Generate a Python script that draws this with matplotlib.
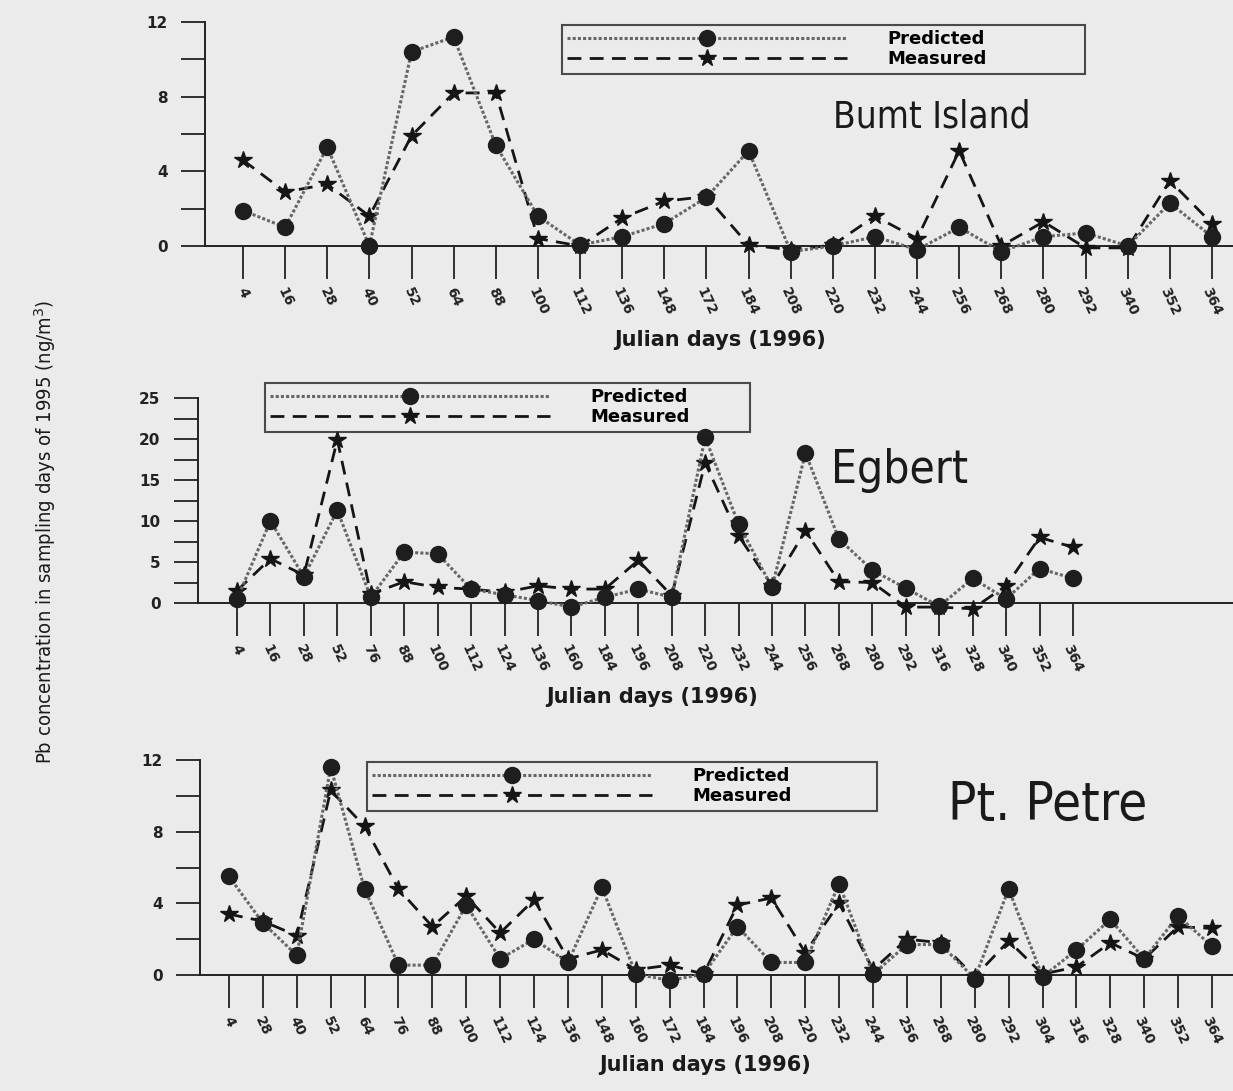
import matplotlib
matplotlib.use("Agg")
import matplotlib.pyplot as plt
from matplotlib.ticker import MultipleLocator

# ---------------- data ----------------
burnt_days = [4, 16, 28, 40, 52, 64, 88, 100, 112, 136, 148, 172, 184, 208, 220,
              232, 244, 256, 268, 280, 292, 340, 352, 364]
burnt_pred = [1.9, 1.0, 5.3, 0.0, 10.4, 11.2, 5.4, 1.6, 0.05, 0.5, 1.2, 2.6, 5.1,
              -0.3, 0.0, 0.5, -0.2, 1.0, -0.3, 0.5, 0.7, 0.0, 2.3, 0.5]
burnt_meas = [4.6, 2.9, 3.3, 1.6, 5.9, 8.2, 8.2, 0.4, 0.0, 1.5, 2.4, 2.65, 0.05,
              -0.2, 0.05, 1.6, 0.4, 5.1, 0.0, 1.3, -0.1, -0.1, 3.5, 1.2]

egbert_days = [4, 16, 28, 52, 76, 88, 100, 112, 124, 136, 160, 184, 196, 208, 220,
               232, 244, 256, 268, 280, 292, 316, 328, 340, 352, 364]
egbert_pred = [0.5, 10.0, 3.2, 11.3, 0.7, 6.2, 6.0, 1.7, 1.0, 0.3, -0.5, 0.7, 1.7,
               0.7, 20.2, 9.6, 1.9, 18.3, 7.8, 4.0, 1.8, -0.4, 3.0, 0.5, 4.2, 3.0]
egbert_meas = [1.5, 5.4, 3.4, 19.9, 1.1, 2.6, 1.9, 1.7, 1.3, 2.1, 1.7, 1.7, 5.2,
               0.9, 17.1, 8.2, 2.1, 8.8, 2.6, 2.5, -0.5, -0.5, -0.7, 2.1, 8.0, 6.8]

petre_days = [4, 28, 40, 52, 64, 76, 88, 100, 112, 124, 136, 148, 160, 172, 184,
              196, 208, 220, 232, 244, 256, 268, 280, 292, 304, 316, 328, 340, 352, 364]
petre_pred = [5.5, 2.9, 1.1, 11.6, 4.8, 0.55, 0.55, 3.9, 0.9, 2.0, 0.7, 4.9, 0.05,
              -0.3, 0.05, 2.7, 0.7, 0.7, 5.1, 0.05, 1.7, 1.7, -0.2, 4.8, -0.1, 1.4,
              3.1, 0.9, 3.3, 1.6]
petre_meas = [3.4, 3.0, 2.2, 10.3, 8.3, 4.8, 2.7, 4.4, 2.35, 4.2, 0.9, 1.4, 0.3,
              0.55, 0.05, 3.9, 4.3, 1.25, 4.0, 0.3, 2.0, 1.8, -0.1, 1.9, 0.05, 0.45,
              1.8, 0.9, 2.7, 2.6]

W, H = 1233, 1091
BG = "#ebebeb"
fig = plt.figure(figsize=(W / 100, H / 100), dpi=100, facecolor=BG)

NARROW = ["Liberation Sans Narrow", "DejaVu Sans"]


def panel(px_left, px_top, px_bottom, days, pred, meas, ymax, major, minor,
          first_tick_px, last_tick_px, leg_box, name, name_xy, name_size, xlabel_xy):
    left = px_left / W
    bottom = 1 - px_bottom / H
    height = (px_bottom - px_top) / H
    ax = fig.add_axes([left, bottom, 1 - left, height])
    ax.set_facecolor("none")
    n = len(days)
    x = list(range(n))
    step = (last_tick_px - first_tick_px) / (n - 1)
    ax.set_xlim(-(first_tick_px - px_left) / step, (n - 1) + (W - last_tick_px) / step)
    ax.set_ylim(0, ymax)

    ax.plot(x, meas, color="#151515", ls=(0, (5, 3)), lw=2.0, marker="*", ms=13,
            mfc="#151515", mec="#151515", clip_on=False, label="Measured", zorder=3)
    ax.plot(x, pred, color="#666666", ls=(0, (1, 0.7)), lw=2.2, marker="o", ms=11.5,
            mfc="#1e1e1e", mec="#1e1e1e", clip_on=False, label="Predicted", zorder=4)

    for s in ("top", "right"):
        ax.spines[s].set_visible(False)
    for s in ("left", "bottom"):
        ax.spines[s].set_linewidth(1.4)
        ax.spines[s].set_color("#222222")

    ax.yaxis.set_major_locator(MultipleLocator(major))
    ax.yaxis.set_minor_locator(MultipleLocator(minor))
    ax.tick_params(axis="y", which="both", direction="out", length=17, width=1.3,
                   colors="#222222", labelsize=11, pad=10)
    for lb in ax.get_yticklabels():
        lb.set_fontweight("bold")

    ax.set_xticks(x)
    ax.set_xticklabels([str(d) for d in days], rotation=-65, fontweight="bold",
                       fontsize=10, ha="center", va="top")
    ax.tick_params(axis="x", which="major", direction="out", length=24, width=1.3,
                   colors="#222222", pad=4)

    handles, labels = ax.get_legend_handles_labels()
    x0, y0, x1, y1 = leg_box
    leg = ax.legend(handles[::-1], labels[::-1], loc="upper left",
                    bbox_to_anchor=(x0 / W, 1 - y1 / H, (x1 - x0) / W, (y1 - y0) / H),
                    bbox_transform=fig.transFigure, mode="expand", frameon=True,
                    fancybox=False, edgecolor="#222222", facecolor="none",
                    handlelength=15.5, numpoints=1,
                    prop={"weight": "bold", "size": 13},
                    borderpad=0.3, labelspacing=0.1, handletextpad=2.2,
                    borderaxespad=0)
    leg.get_frame().set_linewidth(1.5)

    fig.text(name_xy[0] / W, 1 - name_xy[1] / H, name, family=NARROW,
             fontstretch="condensed", fontsize=name_size, ha="center",
             va="center", color="#1a1a1a")
    fig.text(xlabel_xy[0] / W, 1 - xlabel_xy[1] / H, "Julian days (1996)",
             fontweight="bold", fontsize=15, ha="center", va="center", color="#1a1a1a")
    return ax


panel(205, 22, 246, burnt_days, burnt_pred, burnt_meas, 12, 4, 2,
      243, 1212, (562, 25, 1085, 72), "Bumt Island", (932, 117), 26.5, (720, 340))
panel(198, 398, 603, egbert_days, egbert_pred, egbert_meas, 25, 5, 2.5,
      237, 1073, (265, 383, 750, 420), "Egbert", (900, 470), 33, (652, 697))
panel(200, 760, 975, petre_days, petre_pred, petre_meas, 12, 4, 2,
      229, 1212, (367, 762, 877, 812), "Pt. Petre", (1048, 805), 38, (705, 1065))

fig.text(45 / W, 1 - 532 / H, "Pb concentration in sampling days of 1995 (ng/m$^3$)",
         family=NARROW, fontstretch="condensed", fontsize=14.5, rotation=90,
         ha="center", va="center", color="#1a1a1a")

fig.savefig("out.png", dpi=100, facecolor=BG)
